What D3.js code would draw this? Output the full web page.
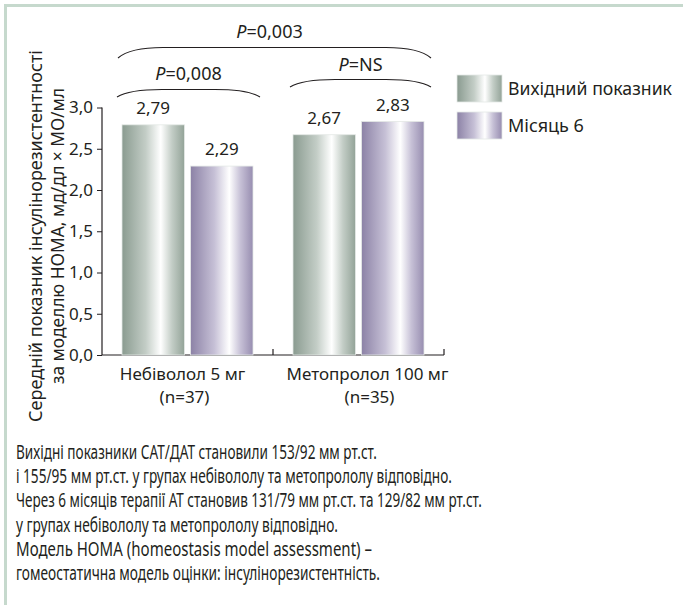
<!DOCTYPE html>
<html><head><meta charset="utf-8">
<script src="https://cdn.jsdelivr.net/npm/d3@7"></script>
<style>
html,body{margin:0;padding:0;background:#fff;}
svg{display:block;font-family:"Noto Sans","Open Sans",sans-serif;}
</style></head>
<body>
<svg id="c" width="683" height="605"></svg>
<script>
const categories = ["Небіволол 5 мг", "Метопролол 100 мг"];
const categorySub = ["(n=37)", "(n=35)"];
const seriesNames = ["Вихідний показник", "Місяць 6"];
const baselineValues = [2.79, 2.67];
const month6Values = [2.29, 2.83];
const yTicks = [0, 0.5, 1.0, 1.5, 2.0, 2.5, 3.0];
const pValues = ["0,003", "0,008", "NS"];
const yTitle = ["Середній показник інсулінорезистентності", "за моделлю HOMA, мд/дл × МО/мл"];
const notes = [
  "Вихідні показники САТ/ДАТ становили 153/92 мм рт.ст.",
  "і 155/95 мм рт.ст. у групах небівололу та метопрололу відповідно.",
  "Через 6 місяців терапії АТ становив 131/79 мм рт.ст. та 129/82 мм рт.ст.",
  "у групах небівололу та метопрололу відповідно.",
  "Модель HOMA (homeostasis model assessment) –",
  "гомеостатична модель оцінки: інсулінорезистентність."
];
const noteWidths = [361, 436, 466, 322, 356, 364];

const svg = d3.select("#c");
const ink = "#231f20";

// frame
svg.append("path").attr("d","M5.5,605V5.5H683").attr("fill","none")
  .attr("stroke","#c6d9cd").attr("stroke-width",3);

// gradients
const defs = svg.append("defs");
const gradSpecs = [
  {id:"gG", edgeL:"#8a9b90", mid:"#c3cdc6", edgeR:"#93a398"},
  {id:"gP", edgeL:"#8c82a6", mid:"#c6c0d6", edgeR:"#978db0"}
];
gradSpecs.forEach(s=>{
  const g = defs.append("linearGradient").attr("id",s.id).attr("x1","0").attr("x2","1").attr("y1","0").attr("y2","0");
  g.append("stop").attr("offset","0").attr("stop-color",s.edgeL);
  g.append("stop").attr("offset","0.38").attr("stop-color",s.mid);
  g.append("stop").attr("offset","0.62").attr("stop-color","#ffffff");
  g.append("stop").attr("offset","0.80").attr("stop-color",s.mid);
  g.append("stop").attr("offset","1").attr("stop-color",s.edgeR);
});
const fills = ["url(#gG)","url(#gP)"];

const y = d3.scaleLinear().domain([0,3]).range([355,107.5]);
const x0 = d3.scaleBand().domain(categories).range([102,444]);
const x1 = d3.scaleBand().domain([0,1]).range([20,151]).paddingInner(0.09);

// axes
const yAxis = d3.axisLeft(y).tickValues(yTicks).tickSize(5).tickPadding(4)
  .tickFormat(d=>d3.format(".1f")(d).replace(".",","));
const gy = svg.append("g").attr("transform","translate(102,0)").call(yAxis);
gy.select(".domain").remove();
gy.selectAll(".tick line").attr("stroke",ink).attr("x2",-5);
gy.selectAll("text").attr("fill",ink).attr("font-size",17).attr("font-family","Noto Sans");
svg.append("line").attr("x1",102).attr("x2",102).attr("y1",y(3)).attr("y2",y(0)).attr("stroke",ink).attr("stroke-width",1.2);
svg.append("line").attr("x1",102).attr("x2",444).attr("y1",y(0)).attr("y2",y(0)).attr("stroke",ink).attr("stroke-width",1.2);
categories.forEach(c=>{
  const xe = x0(c)+x0.bandwidth();
  svg.append("line").attr("x1",xe).attr("x2",xe).attr("y1",y(0)).attr("y2",y(0)-6).attr("stroke",ink).attr("stroke-width",1.2);
});

// bars
const series = [baselineValues, month6Values];
categories.forEach((c,i)=>{
  series.forEach((vals,s)=>{
    const v = vals[i];
    const bx = x0(c)+x1(s);
    svg.append("rect").attr("x",bx).attr("y",y(v)).attr("width",x1.bandwidth()).attr("height",y(0)-y(v))
      .attr("fill",fills[s]).attr("stroke","#e4e8e5").attr("stroke-width",0.8);
    svg.append("text").attr("x",bx+x1.bandwidth()/2).attr("y",y(v)-11).attr("text-anchor","middle")
      .attr("font-size",17).attr("fill",ink).text(d3.format(".2f")(v).replace(".",","));
  });
  const cx = x0(c)+x0.bandwidth()/2 + (i===0?-5:9);
  svg.append("text").attr("x",cx).attr("y",380).attr("text-anchor","middle").attr("font-size",17).attr("fill",ink).text(c);
  svg.append("text").attr("x",cx+2).attr("y",403).attr("text-anchor","middle").attr("font-size",17).attr("fill",ink).text(categorySub[i]);
});

// braces
function brace(xa,xb,yEnd,yTop){
  return `M${xa},${yEnd}Q${xa+12},${yTop} ${xa+45},${yTop}L${xb-45},${yTop}Q${xb-12},${yTop} ${xb},${yEnd}`;
}
const braceSpecs = [
  {from:0,to:1,yEnd:58,yTop:47.5,ty:38,dx:-5,p:pValues[0]},
  {from:0,to:0,yEnd:97,yTop:89.5,ty:80,dx:0,p:pValues[1]},
  {from:1,to:1,yEnd:87,yTop:79.5,ty:71,dx:0,p:pValues[2]}
];
braceSpecs.forEach(b=>{
  const xa = x0(categories[b.from])+16 - (b.from===0&&b.to===0?1:0) + (b.from===1?1:0);
  const xb = x0(categories[b.to])+x0.bandwidth()-13;
  svg.append("path").attr("d",brace(xa,xb,b.yEnd,b.yTop)).attr("fill","none").attr("stroke",ink).attr("stroke-width",1.1);
  const t = svg.append("text").attr("x",(xa+xb)/2+b.dx).attr("y",b.ty).attr("text-anchor","middle").attr("font-size",18).attr("fill",ink);
  t.append("tspan").attr("font-style","italic").text("P");
  t.append("tspan").text("="+b.p);
});

// legend
seriesNames.forEach((n,i)=>{
  const ly = 75 + i*37;
  svg.append("rect").attr("x",457).attr("y",ly).attr("width",45).attr("height",27).attr("fill",fills[i]).attr("stroke","#e4e8e5").attr("stroke-width",0.8);
  const t = svg.append("text").attr("x",508).attr("y",ly+20).attr("font-size",18).attr("fill",ink).text(n);
  if(i===0) t.attr("textLength",164).attr("lengthAdjust","spacingAndGlyphs");
});

// y title
const titleLens = [372, 296];
yTitle.forEach((t,i)=>{
  svg.append("text").attr("transform",`translate(${42+i*22},236) rotate(-90)`).attr("text-anchor","middle")
    .attr("font-size",17.5).attr("fill",ink).attr("textLength",titleLens[i]).attr("lengthAdjust","spacingAndGlyphs").text(t);
});

// notes
notes.forEach((t,i)=>{
  svg.append("text").attr("x",16).attr("y",459+i*24.2).attr("font-size",19).attr("fill",ink)
    .attr("textLength",noteWidths[i]).attr("lengthAdjust","spacingAndGlyphs").text(t);
});
</script>
</body></html>
